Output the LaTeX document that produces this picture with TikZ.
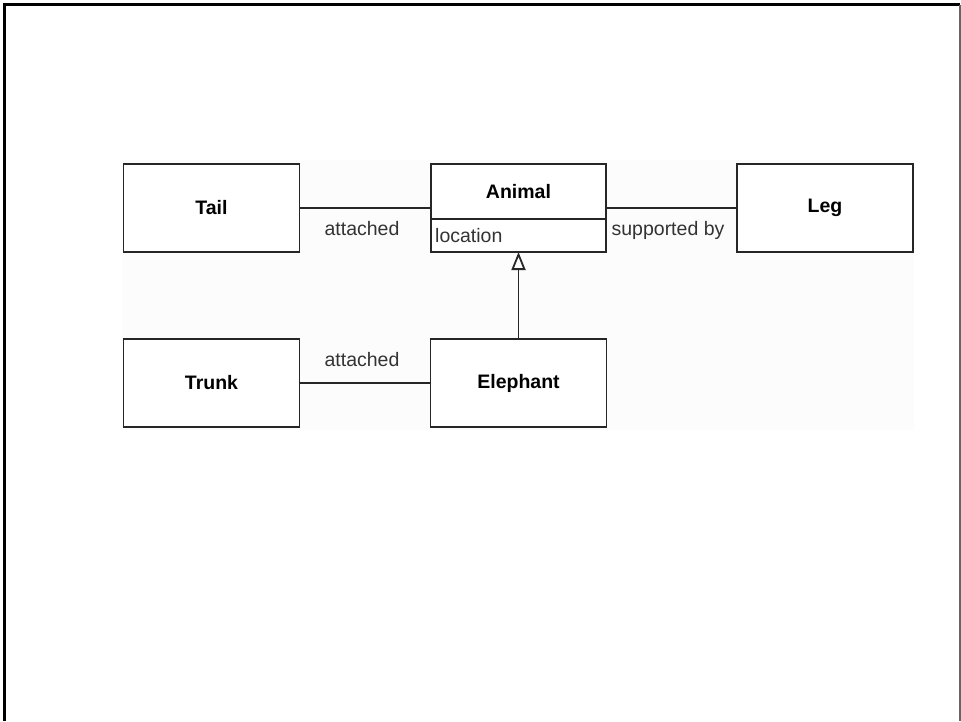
\documentclass[tikz,border=0pt]{standalone}
\usepackage{fontspec}
\setmainfont{Liberation Sans}
\usetikzlibrary{arrows.meta}

\tikzset{
  classbox/.style={shape=rectangle, draw=black!85, fill=white, line width=1.8pt,
    minimum width=176pt, minimum height=88pt, inner sep=0pt, outer sep=0pt,
    font=\fontsize{19.5}{23}\selectfont\bfseries},
  assoc/.style={draw=black!85, line width=1.8pt},
  rolelabel/.style={font=\fontsize{19.5}{23}\selectfont, text=black!80, inner sep=0pt},
  inherit/.style={assoc, -{Triangle[open, length=18pt, width=14pt, line width=1.8pt]}},
}

\begin{document}
\begin{tikzpicture}[x=1pt, y=-1pt]
\useasboundingbox (0,0) rectangle (961,721);
\fill[white] (0,0) rectangle (961,721);
\fill[black!1] (122,160) rectangle (914,430);

              % frame
\draw[line width=3pt, black] (4.5,721) -- (4.5,4.5) -- (960,4.5);
\draw[line width=2pt, black!60] (960,4.5) -- (960,721);

              % classes
\node[classbox] at (211.5, 208)
(tail) {Tail};

\node[classbox] at (211.5, 383)
(trunk) {Trunk};

\node[classbox, minimum width=175pt, minimum height=55pt] at (518.5, 191.5)
(animal) {Animal};
\node[classbox, minimum width=175pt, minimum height=33pt, font=\fontsize{19.5}{23}\selectfont,
  anchor=north] at (animal.south)
(animalattr) {};
\node[rolelabel, anchor=west] at ([xshift=4pt]animalattr.west)
(location) {location};

\node[classbox] at (518.5, 383)
(elephant) {Elephant};

\node[classbox] at (825, 208)
(leg) {Leg};

              % associations
\draw[assoc] (tail.east) -- (tail.east -| animal.west);
\draw[assoc] (trunk.east) -- (elephant.west);
\draw[assoc] (leg.west) -- (leg.west -| animal.east);
\draw[inherit] (elephant.north) -- (animalattr.south);

              % labels
\node[rolelabel] at (362, 229)
(lbltail) {attached};
\node[rolelabel] at (362, 360)
(lbltrunk) {attached};
\node[rolelabel] at (668, 230)
(lblleg) {supported by};
\end{tikzpicture}
\end{document}
